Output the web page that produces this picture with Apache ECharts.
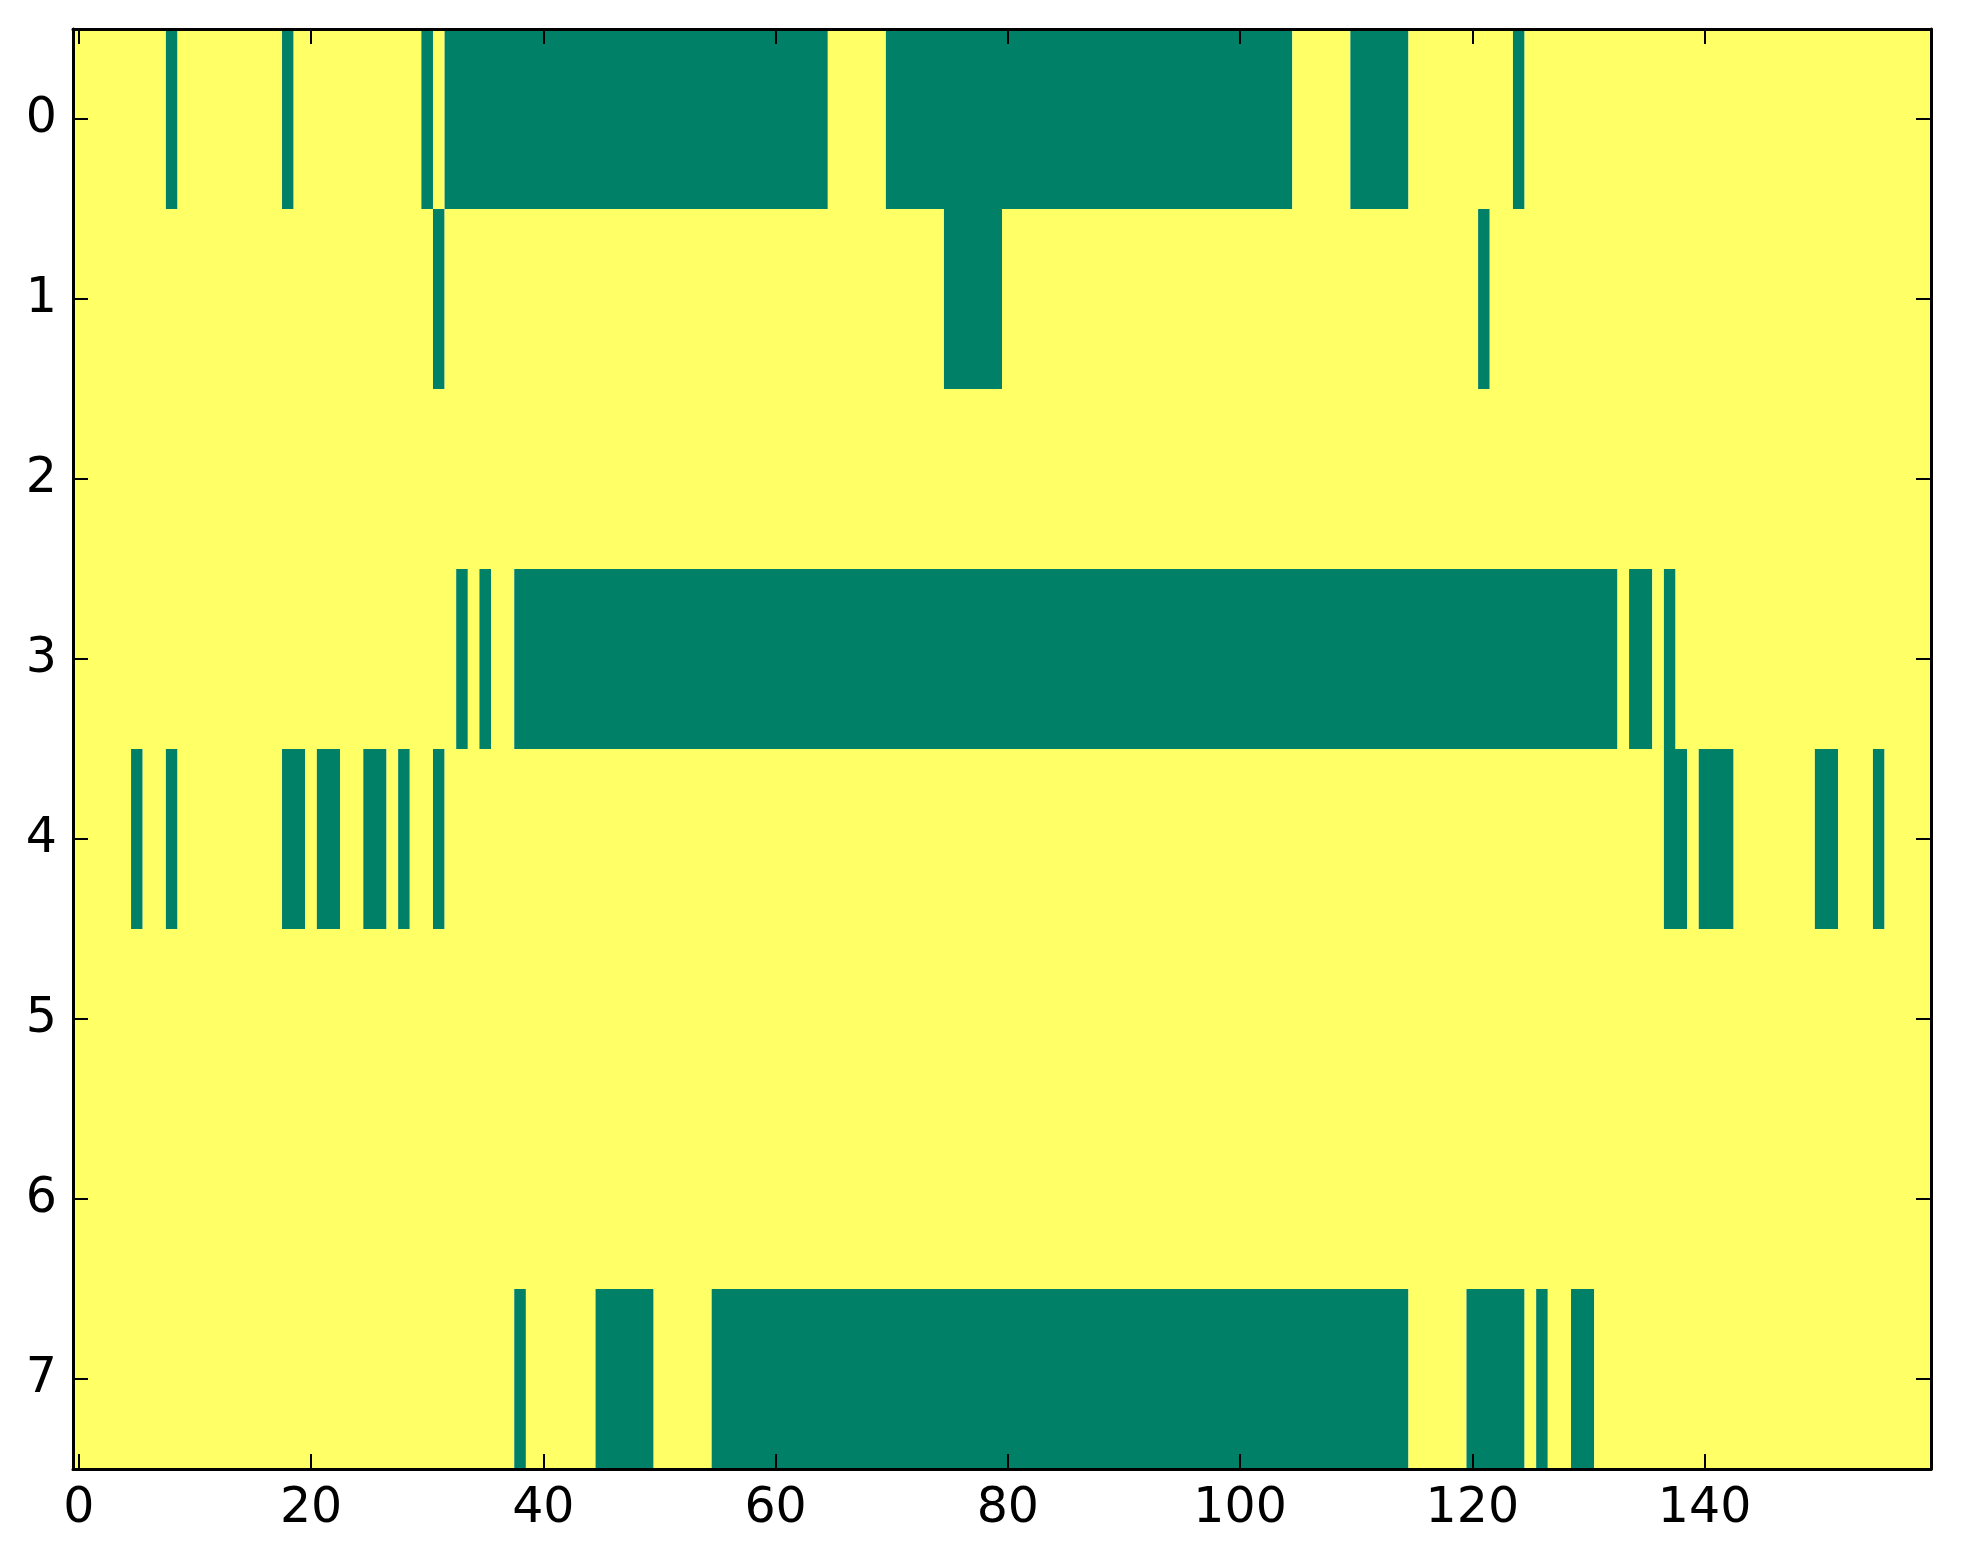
<!DOCTYPE html>
<html>
<head>
<meta charset="utf-8">
<script src="https://cdn.jsdelivr.net/npm/echarts@6/dist/echarts.min.js"></script>
<style>
html,body{margin:0;padding:0;background:#fff;}
#chart{width:1963px;height:1564px;}
</style>
</head>
<body>
<div id="chart"></div>
<script>
// Matrix size
var nCols = 160;
var nRows = 8;
// Green (value 0) runs per row, as [firstColumn, lastColumn]; everything else is yellow (value 1)
var row0 = [[8,8],[18,18],[30,30],[32,64],[70,104],[110,114],[124,124]];
var row1 = [[31,31],[75,79],[121,121]];
var row2 = [];
var row3 = [[33,33],[35,35],[38,132],[134,135],[137,137]];
var row4 = [[5,5],[8,8],[18,19],[21,22],[25,26],[28,28],[31,31],[137,138],[140,142],[150,151],[155,155]];
var row5 = [];
var row6 = [];
var row7 = [[38,38],[45,49],[55,114],[120,124],[126,126],[129,130]];
var rowRuns = [row0,row1,row2,row3,row4,row5,row6,row7];
// Tick labels
var xTicks = [0,20,40,60,80,100,120,140];
var yTicks = [0,1,2,3,4,5,6,7];
// Colormap (matplotlib "summer"): 0 -> green, 1 -> yellow
var colorLow = '#008066';
var colorHigh = '#ffff66';

// Build the full matrix
var matrix = [];
for (var r = 0; r < nRows; r++) {
  var row = [];
  for (var c = 0; c < nCols; c++) row.push(1);
  rowRuns[r].forEach(function (run) {
    for (var k = run[0]; k <= run[1]; k++) row[k] = 0;
  });
  matrix.push(row);
}
// Compress each row into runs of equal value: [start, end, row, value]
var cells = [];
for (var r = 0; r < nRows; r++) {
  var start = 0;
  for (var c = 1; c <= nCols; c++) {
    if (c === nCols || matrix[r][c] !== matrix[r][start]) {
      cells.push([start, c - 1, r, matrix[r][start]]);
      start = c;
    }
  }
}

var font = 'DejaVu Sans';
var labelStyle = {color: '#000', fontSize: 49, fontFamily: font};
var lineStyle = {color: '#000', width: 3};
var tickStyle = {color: '#000', width: 2};

function xAxisDef(pos, showLabel) {
  return {
    type: 'value', position: pos, min: -0.5, max: 159.5, z: 10,
    axisLine: {show: true, onZero: false, lineStyle: lineStyle},
    axisTick: {show: true, inside: true, length: 15, lineStyle: tickStyle, customValues: xTicks},
    axisLabel: Object.assign({show: showLabel, margin: 16, customValues: xTicks}, labelStyle),
    splitLine: {show: false}
  };
}
function yAxisDef(pos, showLabel) {
  return {
    type: 'value', position: pos, inverse: true, min: -0.5, max: 7.5, z: 10,
    axisLine: {show: true, onZero: false, lineStyle: lineStyle},
    axisTick: {show: true, inside: true, length: 15, lineStyle: tickStyle, customValues: yTicks},
    axisLabel: Object.assign({show: showLabel, margin: 16, customValues: yTicks}, labelStyle),
    splitLine: {show: false}
  };
}

var chart = echarts.init(document.getElementById('chart'), null, {renderer: 'canvas'});
chart.setOption({
  backgroundColor: '#ffffff',
  animation: false,
  grid: {left: 73, right: 32, top: 29, bottom: 95, containLabel: false},
  xAxis: [xAxisDef('bottom', true), xAxisDef('top', false)],
  yAxis: [yAxisDef('left', true), yAxisDef('right', false)],
  series: [{
    type: 'custom',
    xAxisIndex: 0, yAxisIndex: 0,
    encode: {x: [0, 1], y: 2},
    data: cells,
    z: 1,
    renderItem: function (params, api) {
      var s = api.value(0), e = api.value(1), r = api.value(2), v = api.value(3);
      var p0 = api.coord([s - 0.5, r - 0.5]);
      var p1 = api.coord([e + 0.5, r + 0.5]);
      return {
        type: 'rect',
        shape: {
          x: Math.min(p0[0], p1[0]), y: Math.min(p0[1], p1[1]),
          width: Math.abs(p1[0] - p0[0]), height: Math.abs(p1[1] - p0[1])
        },
        style: {fill: v === 0 ? colorLow : colorHigh, stroke: null}
      };
    }
  }]
});
</script>
</body>
</html>
